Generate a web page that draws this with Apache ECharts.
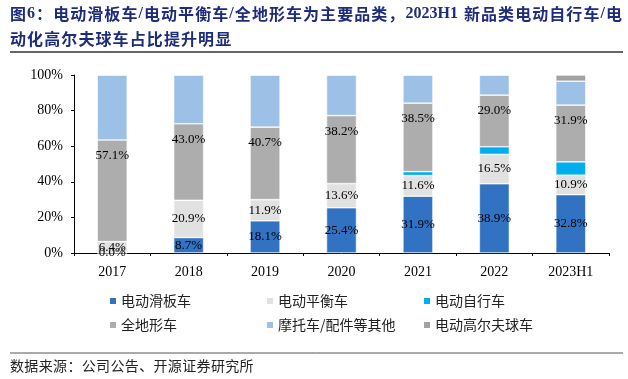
<!DOCTYPE html>
<html><head><meta charset="utf-8">
<script src="https://cdn.jsdelivr.net/npm/echarts@6/dist/echarts.min.js"></script>
<style>html,body{margin:0;padding:0;background:#fff}#c{width:628px;height:379px}</style>
</head><body><div id="c"></div>
<script>
const categories = ['2017','2018','2019','2020','2021','2022','2023H1'];
const seriesNames = ['电动滑板车','电动平衡车','电动自行车','全地形车','摩托车/配件等其他','电动高尔夫球车'];
const scooter = [0.0, 8.7, 18.1, 25.4, 31.9, 38.9, 32.8];
const balance = [6.4, 20.9, 11.9, 13.6, 11.6, 16.5, 10.9];
const ebike   = [0, 0, 0, 0, 2.2, 4.3, 7.5];
const atv     = [57.1, 43.0, 40.7, 38.2, 38.5, 29.0, 31.9];
const others  = [36.5, 27.4, 29.3, 22.8, 15.8, 11.3, 13.4];
const golf    = [0, 0, 0, 0, 0, 0, 3.5];
const yTicks = [0, 20, 40, 60, 80, 100];
const titleLine1 = '图6：电动滑板车/电动平衡车/全地形车为主要品类，2023H1 新品类电动自行车/电';
const titleLine2 = '动化高尔夫球车占比提升明显';
const sourceText = '数据来源：公司公告、开源证券研究所';

const colors = ['#3172C3','#E1E1E1','#00AEEF','#ADADAD','#9DC0E7','#A3A3A3'];
const seriesData = [scooter, balance, ebike, atv, others, golf];

const chart = echarts.init(document.getElementById('c'));
const cv = document.createElement('canvas').getContext('2d');
const TITLE_COLOR = '#1E2C7C';
function fontFor(tok, size, bold){
  const latin = /^[A-Za-z0-9 \/]+$/.test(tok);
  return (bold?'bold ':'') + size + 'px ' + (latin ? '"Liberation Serif"' : '"Noto Sans CJK SC"');
}
function tokens(s){ return s.match(/[A-Za-z0-9]+|\s|./gu); }
const graphics = [];
(function(){
  const toks = tokens(titleLine1);
  const ws = toks.map(t => { cv.font = fontFor(t,16,true); return cv.measureText(t).width; });
  const total = ws.reduce((a,b)=>a+b,0);
  const x0 = 10, x1 = 622;
  const gap = (x1 - x0 - total) / (toks.length - 1);
  let x = x0;
  toks.forEach((t,i) => {
    graphics.push({type:'text', x:x, y:14, style:{text:t, font:fontFor(t,16,true), fill:TITLE_COLOR, textAlign:'left', textVerticalAlign:'middle'}});
    x += ws[i] + gap;
  });
  let x2 = 10;
  tokens(titleLine2).forEach(t => {
    cv.font = fontFor(t,16,true);
    const w = cv.measureText(t).width;
    graphics.push({type:'text', x:x2, y:39, style:{text:t, font:fontFor(t,16,true), fill:TITLE_COLOR, textAlign:'left', textVerticalAlign:'middle'}});
    x2 += w + 1.1;
  });
  let x3 = 10;
  tokens(sourceText).forEach(t => {
    const f = '14px "Noto Sans CJK SC"';
    cv.font = f;
    const w = cv.measureText(t).width;
    graphics.push({type:'text', x:x3, y:366, style:{text:t, font:f, fill:'#222', textAlign:'left', textVerticalAlign:'middle'}});
    x3 += w + 0.35;
  });
})();
graphics.push({type:'line', shape:{x1:10,y1:52,x2:623,y2:52}, style:{stroke:'#333',lineWidth:1.6}});
graphics.push({type:'line', shape:{x1:10,y1:353,x2:623,y2:353}, style:{stroke:'#555',lineWidth:1}});

const legendPos = [[108,294],[265,294],[422,294],[108,318],[265,318],[422,318]];
const legends = seriesNames.map((n,i)=>({
  data:[n], left:legendPos[i][0], top:legendPos[i][1], padding:0, itemWidth:8, itemHeight:8,
  icon:'rect', selectedMode:false, itemGap:0,
  textStyle:{fontFamily:'Noto Sans CJK SC', fontSize:14, color:'#222', padding:[0,0,0,-1]}
}));

const labelCommon = {fontFamily:'Liberation Serif', fontSize:13, color:'#000'};
const series = seriesNames.map((n,i)=>{
  const s = {name:n, type:'bar', stack:'total', barWidth:30, data:seriesData[i],
    itemStyle:{color:colors[i], borderColor:'#fff', borderWidth:0.6}, animation:false};
  if (i===0 || i===1) s.label = Object.assign({show:true, position:'inside', formatter:p=>p.value.toFixed(1)+'%'}, labelCommon);
  if (i===3) s.label = Object.assign({show:true, position:'insideTop', distance:9, formatter:p=>p.value.toFixed(1)+'%'}, labelCommon);
  return s;
});

chart.setOption({
  animation:false,
  graphic: graphics,
  legend: legends,
  grid:{left:74, right:19, top:75, bottom:126},
  xAxis:{type:'category', data:categories,
    axisLine:{lineStyle:{color:'#000', width:1}},
    axisTick:{show:true, length:3, lineStyle:{color:'#000'}},
    axisLabel:{fontFamily:'Liberation Serif', fontSize:14, color:'#000', margin:12}},
  yAxis:{type:'value', min:0, max:100, interval:20,
    axisLine:{show:true, lineStyle:{color:'#000', width:1}},
    axisTick:{show:true, length:3, lineStyle:{color:'#000'}},
    splitLine:{show:false},
    axisLabel:{fontFamily:'Liberation Serif', fontSize:14, color:'#000', margin:11,
      formatter:v=> yTicks.includes(v) ? v+'%' : ''}},
  series: series
});
</script></body></html>
